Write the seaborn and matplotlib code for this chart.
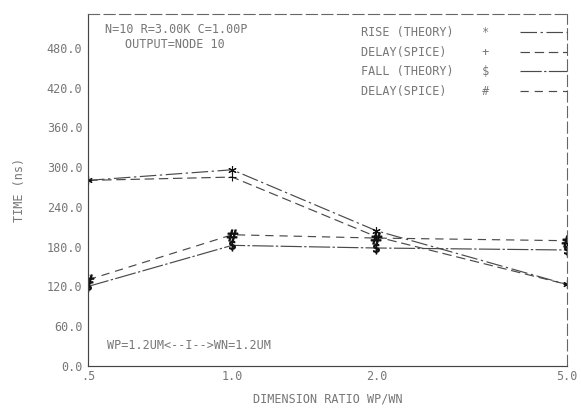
import numpy as np
import pandas as pd
import matplotlib
matplotlib.use("Agg")
import matplotlib.pyplot as plt
from matplotlib.lines import Line2D
import seaborn as sns

# ---- data ----
ratios = [0.5, 1.0, 2.0, 5.0]
x_tick_labels = [".5", "1.0", "2.0", "5.0"]
rise_theory = [280, 296, 204, 123]
rise_spice = [280, 285, 195, 123]
fall_theory = [120, 182, 178, 175]
fall_spice = [130, 198, 193, 189]
series_names = ["RISE (THEORY)", "DELAY(SPICE)", "FALL (THEORY)", "DELAY(SPICE)"]
series_symbols = ["*", "+", "$", "#"]
y_ticks = [0, 60, 120, 180, 240, 300, 360, 420, 480]
y_tick_labels = ["0.0", "60.0", "120.0", "180.0", "240.0", "300.0", "360.0", "420.0", "480.0"]

sns.set_theme(style="white")
plt.rcParams["font.family"] = ["DejaVu Sans Mono", "DejaVu Sans"]

TXT = "#777777"
LINE = "#4a4a4a"
FS = 8.5

fig = plt.figure(figsize=(5.81, 4.08), dpi=100)
ax = fig.add_axes([88 / 581, 1 - 366 / 408, (567 - 88) / 581, (366 - 14) / 408])

all_series = [rise_theory, rise_spice, fall_theory, fall_spice]
markers = [(6, 2, 0), "+", r"$\$$", r"$\#$"]
msizes = [6, 6, 8, 8]
styles = [(0, (14, 3, 2, 3)), (0, (8, 4)), (0, (18, 2, 2, 2)), (0, (7, 5))]

for vals, mk, ms, ls in zip(all_series, markers, msizes, styles):
    df = pd.DataFrame({"ratio": ratios, "time": vals})
    sns.lineplot(data=df, x="ratio", y="time", ax=ax, color=LINE, linewidth=0.85,
                 linestyle=ls, marker=mk, markersize=ms, markeredgecolor="#111111",
                 markerfacecolor="#111111", markeredgewidth=0.8, legend=False)

ax.set_xscale("log")
ax.set_xlim(0.5, 5.0)
ax.set_ylim(0, 531)
ax.set_xticks(ratios)
ax.set_xticklabels(x_tick_labels)
ax.xaxis.set_minor_locator(matplotlib.ticker.NullLocator())
ax.set_yticks(y_ticks)
ax.set_yticklabels(y_tick_labels)
ax.tick_params(axis="both", labelsize=FS, labelcolor=TXT, colors="#555555",
               direction="in", length=5, width=0.8)
ax.tick_params(axis="x", pad=3)
ax.tick_params(axis="y", pad=4)

for side in ["left", "bottom"]:
    ax.spines[side].set_color("#444444")
    ax.spines[side].set_linewidth(0.85)
for side in ["top", "right"]:
    ax.spines[side].set_color("#666666")
    ax.spines[side].set_linewidth(0.8)
    ax.spines[side].set_linestyle((0, (10, 4)))

ax.set_xlabel("DIMENSION RATIO WP/WN", fontsize=FS, color=TXT, labelpad=7)
ax.set_ylabel("TIME (ns)", fontsize=FS, color=TXT, labelpad=15)

ax.text(0.035, 0.955, "N=10 R=3.00K C=1.00P", transform=ax.transAxes,
        fontsize=FS, color=TXT, va="center", ha="left")
ax.text(0.077, 0.912, "OUTPUT=NODE 10", transform=ax.transAxes,
        fontsize=FS, color=TXT, va="center", ha="left")
ax.text(0.04, 0.058, "WP=1.2UM<--I-->WN=1.2UM", transform=ax.transAxes,
        fontsize=FS, color=TXT, va="center", ha="left")

handles = [Line2D([0], [0], color=LINE, linewidth=0.85, linestyle=ls) for ls in styles]
labels = [f"{n:<17}{s}" for n, s in zip(series_names, series_symbols)]
leg = ax.legend(handles, labels, loc="upper right", bbox_to_anchor=(1.0, 0.965),
                frameon=False, markerfirst=False, fontsize=FS, handlelength=4.0,
                handletextpad=2.6, labelspacing=0.55, borderaxespad=0, borderpad=0)
for t in leg.get_texts():
    t.set_color(TXT)

fig.savefig("out.png", dpi=100, facecolor="white")
